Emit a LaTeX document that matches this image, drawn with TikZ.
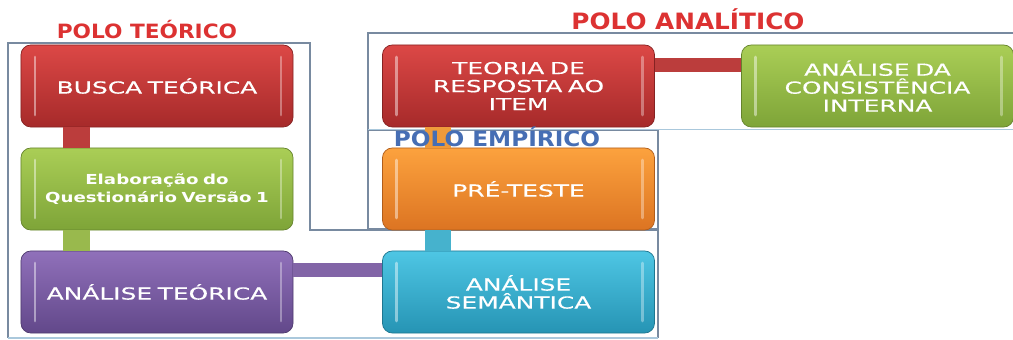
\documentclass[tikz,border=0pt]{standalone}
\usepackage{fontspec}
\setmainfont{DejaVu Sans}
\newfontfamily\caixafont[FakeStretch=1.5,FakeBold=0.4]{DejaVu Sans}
\newfontfamily\elabfont[FakeStretch=1.32]{DejaVu Sans}
\newfontfamily\polofont[FakeStretch=1.1]{DejaVu Sans}
\usepackage{tikz}

\definecolor{vermA}{RGB}{220,72,70}
\definecolor{vermB}{RGB}{166,42,42}
\definecolor{verdeA}{RGB}{170,206,86}
\definecolor{verdeB}{RGB}{126,164,56}
\definecolor{roxoA}{RGB}{144,112,186}
\definecolor{roxoB}{RGB}{98,72,138}
\definecolor{laranjaA}{RGB}{252,162,62}
\definecolor{laranjaB}{RGB}{220,116,34}
\definecolor{cianoA}{RGB}{78,198,228}
\definecolor{cianoB}{RGB}{38,148,180}
\definecolor{moldura}{RGB}{120,138,160}
\definecolor{molduraclara}{RGB}{170,200,220}
\definecolor{tituloverm}{RGB}{220,50,50}
\definecolor{tituloazul}{RGB}{70,110,180}

\tikzset{
  etapa/.style={rectangle, rounded corners=7pt, minimum width=6.8cm, minimum height=2.05cm,
    text width=6.5cm, align=center, text=white, line width=0.5pt,
    font=\caixafont\fontsize{11.8}{12.8}\selectfont,
    path picture={
      \draw[white, opacity=0.45, line width=2pt, line cap=round]
        ([xshift=0.35cm,yshift=-0.3cm]path picture bounding box.north west) --
        ([xshift=0.35cm,yshift=0.3cm]path picture bounding box.south west);
      \draw[white, opacity=0.35, line width=2pt, line cap=round]
        ([xshift=-0.3cm,yshift=-0.3cm]path picture bounding box.north east) --
        ([xshift=-0.3cm,yshift=0.3cm]path picture bounding box.south east);}},
  vermelho/.style={etapa, top color=vermA, bottom color=vermB, draw=vermB!80!black},
  verde/.style={etapa, top color=verdeA, bottom color=verdeB, draw=verdeB!80!black},
  roxo/.style={etapa, top color=roxoA, bottom color=roxoB, draw=roxoB!80!black},
  laranja/.style={etapa, top color=laranjaA, bottom color=laranjaB, draw=laranjaB!80!black},
  ciano/.style={etapa, top color=cianoA, bottom color=cianoB, draw=cianoB!80!black},
  barrav/.style={line width=19pt},
  barrah/.style={line width=10pt},
  polo/.style={font=\polofont\bfseries\fontsize{#1}{#1}\selectfont},
  quadro/.style={draw=moldura, line width=0.8pt}
}

\begin{document}
\begin{tikzpicture}[x=0.025cm,y=-0.025cm]
\useasboundingbox (0,0) rectangle (1013,340);

\draw[quadro] (8,338) -- (8,43) -- (310,43) -- (310,230) -- (658,230) -- (658,338);
\draw[draw=molduraclara, line width=0.8pt] (8,338) -- (658,338);
\draw[quadro] (368,130) rectangle (658,229);
\draw[quadro] (368,130) -- (368,33) -- (1013,33);
\draw[draw=molduraclara, line width=0.8pt] (368,129.5) -- (1013,129.5);

\node[vermelho] (busca) at (157,86) {BUSCA TEÓRICA};
\node[verde, font=\elabfont\bfseries\fontsize{9.8}{12.8}\selectfont] (elab) at (157,189) {Elaboração do\\Questionário Versão 1};
\node[roxo] (analteo) at (157,292) {ANÁLISE TEÓRICA};

\node[vermelho] (tri) at (518.5,86) {TEORIA DE\\RESPOSTA AO\\ITEM};
\node[laranja] (preteste) at (518.5,189) {PRÉ-TESTE};
\node[ciano] (semantica) at (518.5,292) {ANÁLISE\\SEMÂNTICA};

\node[verde] (consist) at (877.5,86) {ANÁLISE DA\\CONSISTÊNCIA\\INTERNA};

\draw[barrav, draw=vermA!85!black] ([xshift=-2.01cm]busca.south) -- ([xshift=-2.01cm]elab.north);
\draw[barrav, draw=verdeA!90!black] ([xshift=-2.01cm]elab.south) -- ([xshift=-2.01cm]analteo.north);
\draw[barrav, draw=laranjaA!95!black] ([xshift=-2.01cm]tri.south) -- ([xshift=-2.01cm]preteste.north);
\draw[barrav, draw=cianoA!90!black] ([xshift=-2.01cm]preteste.south) -- ([xshift=-2.01cm]semantica.north);
\draw[barrah, draw=roxoA!90!black] ([yshift=0.56cm]analteo.east) -- ([yshift=0.56cm]semantica.west);
\draw[barrah, draw=vermA!85!black] ([yshift=0.52cm]tri.east) -- ([yshift=0.52cm]consist.west);

\node[polo=14, text=tituloverm] (poloteo) at (147,30) {POLO TEÓRICO};
\node[polo=16, text=tituloverm] (poloana) at (688,19) {POLO ANALÍTICO};
\node[polo=15, text=tituloazul] (poloemp) at (497,137) {POLO EMPÍRICO};

\end{tikzpicture}
\end{document}
